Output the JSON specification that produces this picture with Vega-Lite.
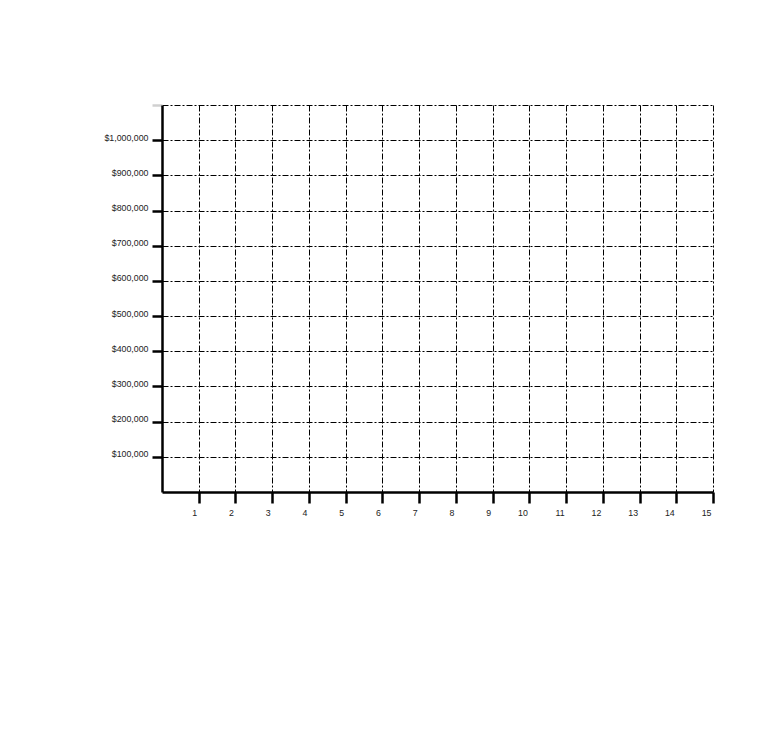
{
  "$schema": "https://vega.github.io/schema/vega-lite/v6.json",
  "autosize": "none",
  "width": 551,
  "height": 387,
  "padding": {"left": 162, "top": 105, "right": 58, "bottom": 243},
  "background": "white",
  "config": {
    "view": {"stroke": null},
    "font": "Liberation Sans"
  },
  "data": {"values": [{"period": 0, "amount": 0}]},
  "mark": {"type": "point", "opacity": 0},
  "encoding": {
    "x": {
      "field": "period",
      "type": "quantitative",
      "scale": {"domain": [0, 15], "nice": false, "zero": false},
      "axis": {
        "title": null,
        "values": [1, 2, 3, 4, 5, 6, 7, 8, 9, 10, 11, 12, 13, 14, 15],
        "grid": true,
        "gridColor": "black",
        "gridWidth": 1,
        "gridDash": [6, 2, 2, 2],
        "gridOpacity": 1,
        "domainColor": "black",
        "domainWidth": 2.5,
        "tickColor": "black",
        "tickWidth": 2.5,
        "tickSize": 11,
        "labelFontSize": 8.8,
        "labelColor": "#222",
        "labelAlign": "right",
        "labelOffset": -2,
        "labelPadding": 5
      }
    },
    "y": {
      "field": "amount",
      "type": "quantitative",
      "scale": {"domain": [0, 1100000], "nice": false},
      "axis": {
        "title": null,
        "values": [100000, 200000, 300000, 400000, 500000, 600000, 700000, 800000, 900000, 1000000, 1100000],
        "format": "$,.0f",
        "labelExpr": "datum.value > 1000000 ? '' : datum.label",
        "grid": true,
        "gridColor": "black",
        "gridWidth": 1,
        "gridDash": [6, 2, 2, 2],
        "gridOpacity": 1,
        "domainColor": "black",
        "domainWidth": 2.5,
        "tickColor": {"condition": {"test": "datum.value > 1000000", "value": "#d0d0d0"}, "value": "black"},
        "tickWidth": 2.5,
        "tickSize": 10,
        "labelFontSize": 8.8,
        "labelColor": "#222",
        "labelOffset": -3,
        "labelPadding": 4
      }
    }
  }
}
